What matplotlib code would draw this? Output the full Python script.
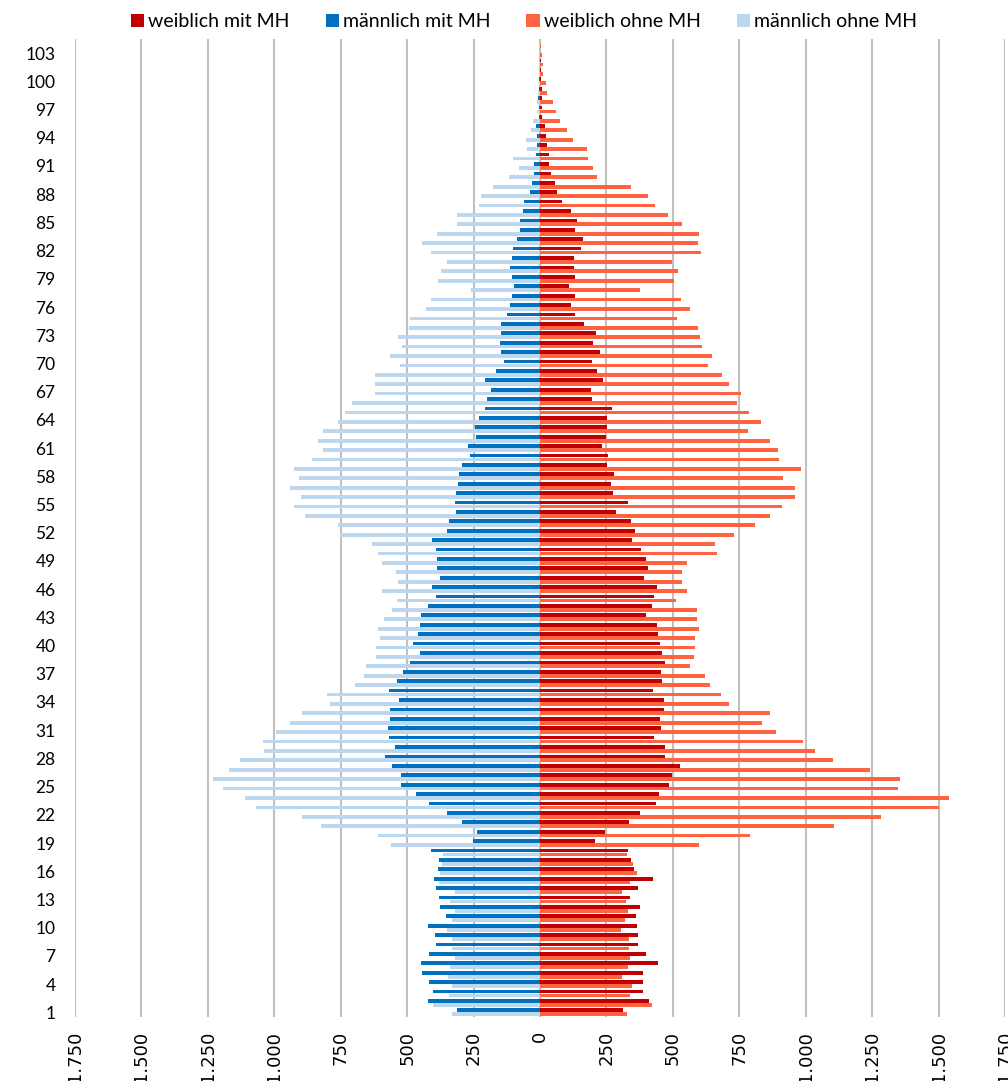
import numpy as np
import matplotlib
matplotlib.use('Agg')
from matplotlib import pyplot as plt

plt.rcParams['font.family'] = ['Lato', 'DejaVu Sans']

ages = np.arange(1, 105)

# ages 1..104
weiblich_mit = [311, 412, 389, 389, 387, 445, 399, 370, 370, 365,
                360, 375, 340, 370, 425, 355, 343, 331, 207, 245,
                335, 377, 438, 447, 486, 496, 525, 472, 471, 430,
                455, 450, 465, 465, 425, 460, 455, 470, 460, 450,
                445, 440, 400, 420, 430, 440, 390, 405, 400, 380,
                345, 358, 342, 287, 331, 273, 268, 279, 254, 256,
                235, 250, 251, 251, 270, 195, 191, 236, 215, 194,
                224, 201, 211, 166, 133, 117, 131, 109, 131, 128,
                127, 156, 162, 131, 138, 116, 83, 65, 58, 41,
                34, 34, 26, 24, 19, 9, 6, 9, 6, 5,
                4, 2, 1, 0]
maennlich_mit = [311, 420, 403, 418, 443, 449, 418, 393, 395, 420,
                 355, 375, 380, 390, 400, 385, 379, 412, 253, 238,
                 293, 351, 418, 467, 523, 525, 558, 584, 546, 568,
                 572, 565, 565, 531, 568, 538, 516, 489, 452, 478,
                 459, 452, 448, 422, 392, 407, 376, 388, 388, 392,
                 407, 350, 342, 318, 321, 317, 309, 304, 293, 264,
                 272, 241, 246, 229, 207, 200, 186, 207, 166, 136,
                 145, 150, 147, 147, 124, 113, 107, 96, 107, 114,
                 107, 103, 85, 75, 75, 64, 60, 38, 29, 23,
                 23, 15, 13, 13, 16, 5, 4, 6, 3, 2,
                 1, 1, 0, 0]
weiblich_ohne = [326, 420, 339, 345, 310, 333, 339, 336, 335, 305,
                 320, 330, 325, 310, 340, 365, 350, 327, 600, 790,
                 1105, 1285, 1500, 1540, 1348, 1355, 1242, 1103, 1035, 990,
                 890, 835, 865, 710, 680, 640, 620, 565, 580, 585,
                 585, 600, 590, 590, 510, 555, 535, 535, 555, 665,
                 660, 730, 811, 867, 910, 960, 960, 916, 984, 899,
                 896, 864, 782, 831, 788, 743, 757, 713, 685, 631,
                 649, 608, 601, 595, 515, 564, 530, 375, 503, 520,
                 495, 606, 596, 598, 533, 480, 434, 405, 344, 214,
                 201, 182, 175, 123, 102, 75, 59, 48, 25, 21,
                 13, 11, 6, 4]
maennlich_ohne = [332, 402, 341, 330, 345, 339, 320, 332, 330, 350,
                  330, 320, 340, 320, 380, 375, 370, 364, 560, 611,
                  826, 894, 1069, 1112, 1192, 1230, 1172, 1128, 1038, 1042,
                  994, 941, 896, 791, 802, 696, 663, 655, 617, 617,
                  602, 610, 587, 557, 538, 595, 535, 542, 595, 610,
                  633, 753, 760, 885, 926, 901, 941, 908, 925, 859,
                  816, 836, 816, 760, 733, 708, 622, 622, 622, 527,
                  564, 520, 534, 493, 489, 429, 410, 261, 383, 371,
                  351, 410, 444, 387, 313, 314, 231, 221, 176, 116,
                  79, 102, 49, 52, 33, 25, 13, 10, 8, 4,
                  4, 4, 2, 2]

fig = plt.figure(figsize=(10.08, 10.81), dpi=100)
ax = fig.add_axes([75/1008, 64/1081, 930/1008, 978/1081])

h = 0.4
off = 0.21
ax.barh(ages + off, weiblich_mit, height=h, color='#C00000', label='weiblich mit MH', zorder=3)
ax.barh(ages + off, -np.array(maennlich_mit), height=h, color='#0070C0', label='männlich mit MH', zorder=3)
ax.barh(ages - off, weiblich_ohne, height=h, color='#FF6340', label='weiblich ohne MH', zorder=3)
ax.barh(ages - off, -np.array(maennlich_ohne), height=h, color='#BDD7EE', label='männlich ohne MH', zorder=3)

ax.set_xlim(-1750, 1750)
ax.set_ylim(0.5, 104.5)

xt = np.arange(-1750, 1751, 250)
ax.set_xticks(xt)
ax.set_xticklabels([f"{abs(v):,}".replace(',', '.') for v in xt],
                   rotation=90, fontsize=13, family='DejaVu Sans')
ax.set_yticks(np.arange(1, 104, 3))
ax.tick_params(axis='y', length=0, pad=14, labelsize=12.5)
ax.tick_params(axis='x', length=0, pad=10)

ax.grid(axis='x', color='#C0C0C0', linewidth=1.5, zorder=0)
ax.set_axisbelow(True)
for s in ax.spines.values():
    s.set_visible(False)

fig.legend(loc='upper center', bbox_to_anchor=(524/1008, 1.004), ncol=4,
           frameon=False, fontsize=14, handlelength=0.7, handleheight=0.7,
           handletextpad=0.2, columnspacing=1.85)

fig.savefig('out.png', dpi=100)
